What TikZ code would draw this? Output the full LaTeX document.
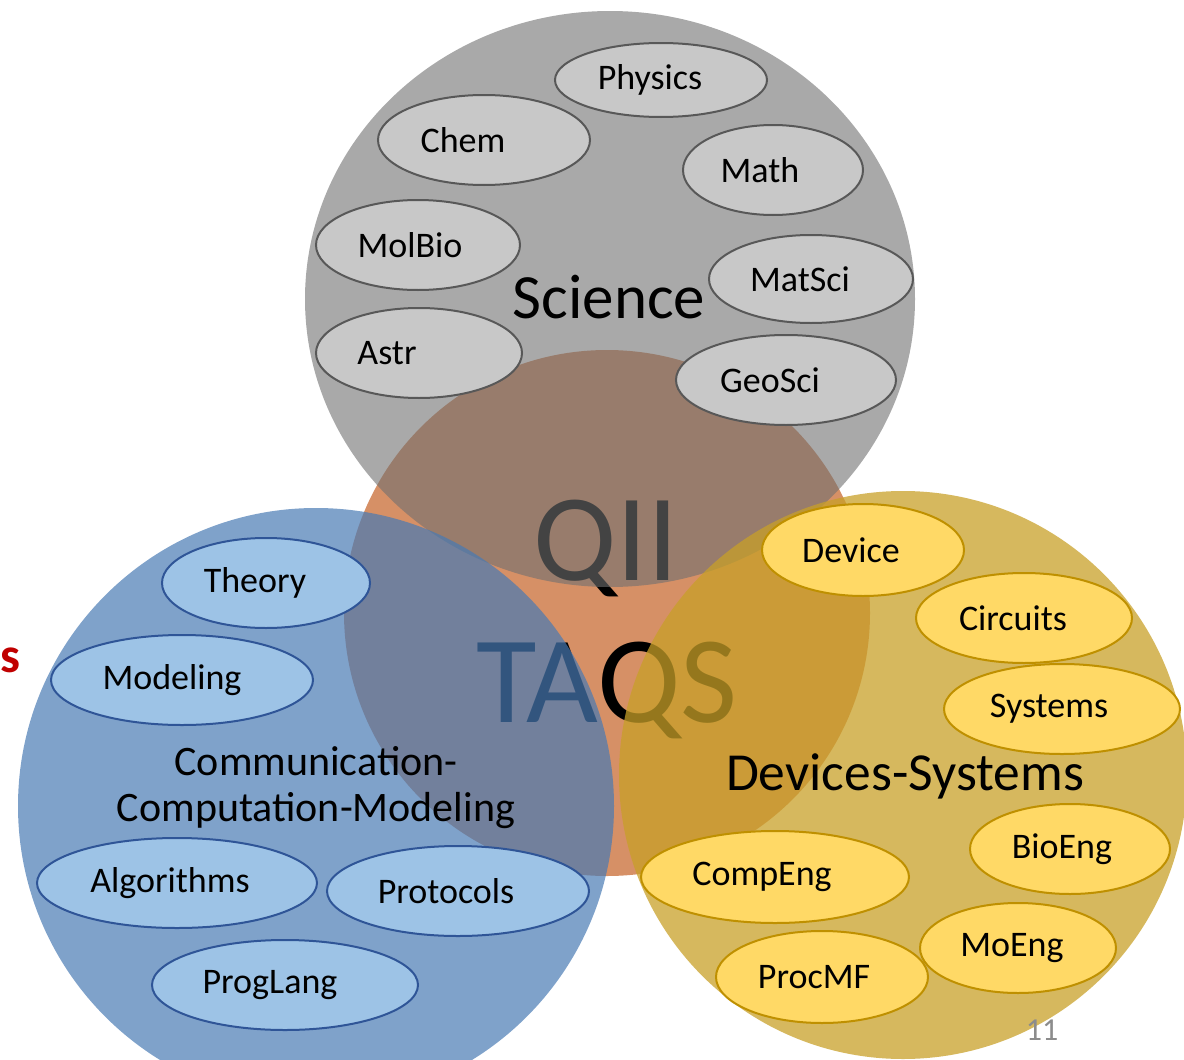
\documentclass[tikz,border=0pt]{standalone}
\usepackage{fontspec}
\setmainfont{Carlito}
\usetikzlibrary{shapes.geometric}
\definecolor{orangeC}{RGB}{214,144,102}
\definecolor{greyC}{RGB}{112,112,112}
\definecolor{blueC}{RGB}{72,122,180}
\definecolor{yellowC}{RGB}{200,160,40}
\definecolor{gbFill}{RGB}{200,200,200}
\definecolor{gbLine}{RGB}{88,88,88}
\definecolor{bbFill}{RGB}{157,195,230}
\definecolor{bbLine}{RGB}{47,85,151}
\definecolor{ybFill}{RGB}{255,217,102}
\definecolor{ybLine}{RGB}{191,144,0}
\definecolor{redC}{RGB}{192,0,0}
\definecolor{numC}{RGB}{140,140,140}
\newcommand\mybub[8]{%
  \node[#1, minimum width=2*#5, minimum height=2*#6] (#2) at (#3,#4) {#8\kern#7pt};}
\begin{document}
\begin{tikzpicture}[x=1pt,y=-1pt,
  bigc/.style={circle, inner sep=0, draw=none},
  bub/.style={ellipse, inner sep=0, line width=2pt, font=\fontsize{36}{40}\selectfont},
  gbub/.style={bub, draw=gbLine, fill=gbFill},
  bbub/.style={bub, draw=bbLine, fill=bbFill},
  ybub/.style={bub, draw=ybLine, fill=ybFill},
  huge/.style={font=\fontsize{124}{134}\selectfont, text=black, inner sep=0},
  title/.style={text=black, inner sep=0}]
\useasboundingbox (0,0) rectangle (1184,1060);
\clip (0,0) rectangle (1184,1060);
% centre circle
\node[bigc, fill=orangeC, minimum size=526] (qii) at (607,613) {};
% big texts (under the translucent circles)
\node[huge, anchor=base] (qiiT) at (606,580) {QII};
\node[huge, anchor=base] (taqsT) at (607,722) {TAQS};
% translucent circles
\node[ellipse, inner sep=0, draw=none, fill=greyC, fill opacity=0.6, minimum width=610, minimum height=576] (sci) at (610,299) {};
\node[bigc, fill=blueC, fill opacity=0.7, minimum size=596] (ccm) at (316,806) {};
\node[bigc, fill=yellowC, fill opacity=0.75, minimum size=568] (dev) at (903,775) {};
% Science bubbles
\mybub{gbub}{phys}{661}{80}{106}{37}{22}{Physics}
\mybub{gbub}{chem}{484}{140}{106}{45}{42}{Chem}
\mybub{gbub}{math}{773}{170}{90}{45}{26}{Math}
\mybub{gbub}{molbio}{418}{245}{102}{45}{16}{MolBio}
\mybub{gbub}{matsci}{811}{279}{102}{44}{22}{MatSci}
\mybub{gbub}{astr}{419}{353}{103}{45}{64}{Astr}
\mybub{gbub}{geosci}{786}{380}{110}{45}{32}{GeoSci}
\node[title, anchor=base, font=\fontsize{63}{70}\selectfont] (sciT) at (609,318) {Science};
% Communication bubbles
\mybub{bbub}{theory}{266}{583}{104}{45}{22}{Theory}
\mybub{bbub}{modeling}{182}{680}{131}{45}{20}{Modeling}
\mybub{bbub}{algo}{177}{883}{140}{45}{14}{Algorithms}
\mybub{bbub}{proto}{458}{891}{131}{45}{24}{Protocols}
\mybub{bbub}{prog}{285}{985}{133}{45}{30}{ProgLang}
\node[title, align=center, font=\fontsize{42}{46}\selectfont] (ccmT) at (316,788) {Communication-\\Computation-Modeling};
% Devices bubbles
\mybub{ybub}{device}{863}{550}{101}{46}{24}{Device}
\mybub{ybub}{circ}{1024}{618}{108}{45}{22}{Circuits}
\mybub{ybub}{syst}{1062}{709}{118}{45}{26}{Systems}
\mybub{ybub}{bioeng}{1070}{849}{100}{45}{16}{BioEng}
\mybub{ybub}{compeng}{775}{877}{134}{46}{26}{CompEng}
\mybub{ybub}{moeng}{1018}{948}{98}{45}{12}{MoEng}
\mybub{ybub}{procmf}{822}{977}{106}{46}{16}{ProcMF}
\node[title, anchor=base, font=\fontsize{53.5}{58}\selectfont] (devT) at (905,790) {Devices-Systems};
% stray red letter and page number
\node[anchor=base west, inner sep=0, text=redC, font=\bfseries\fontsize{50}{56}\selectfont] (redS) at (0,672) {s};
\node[anchor=base, inner sep=0, text=numC, font=\fontsize{32}{36}\selectfont] (pageNo) at (1042,1040) {11};
\end{tikzpicture}
\end{document}
